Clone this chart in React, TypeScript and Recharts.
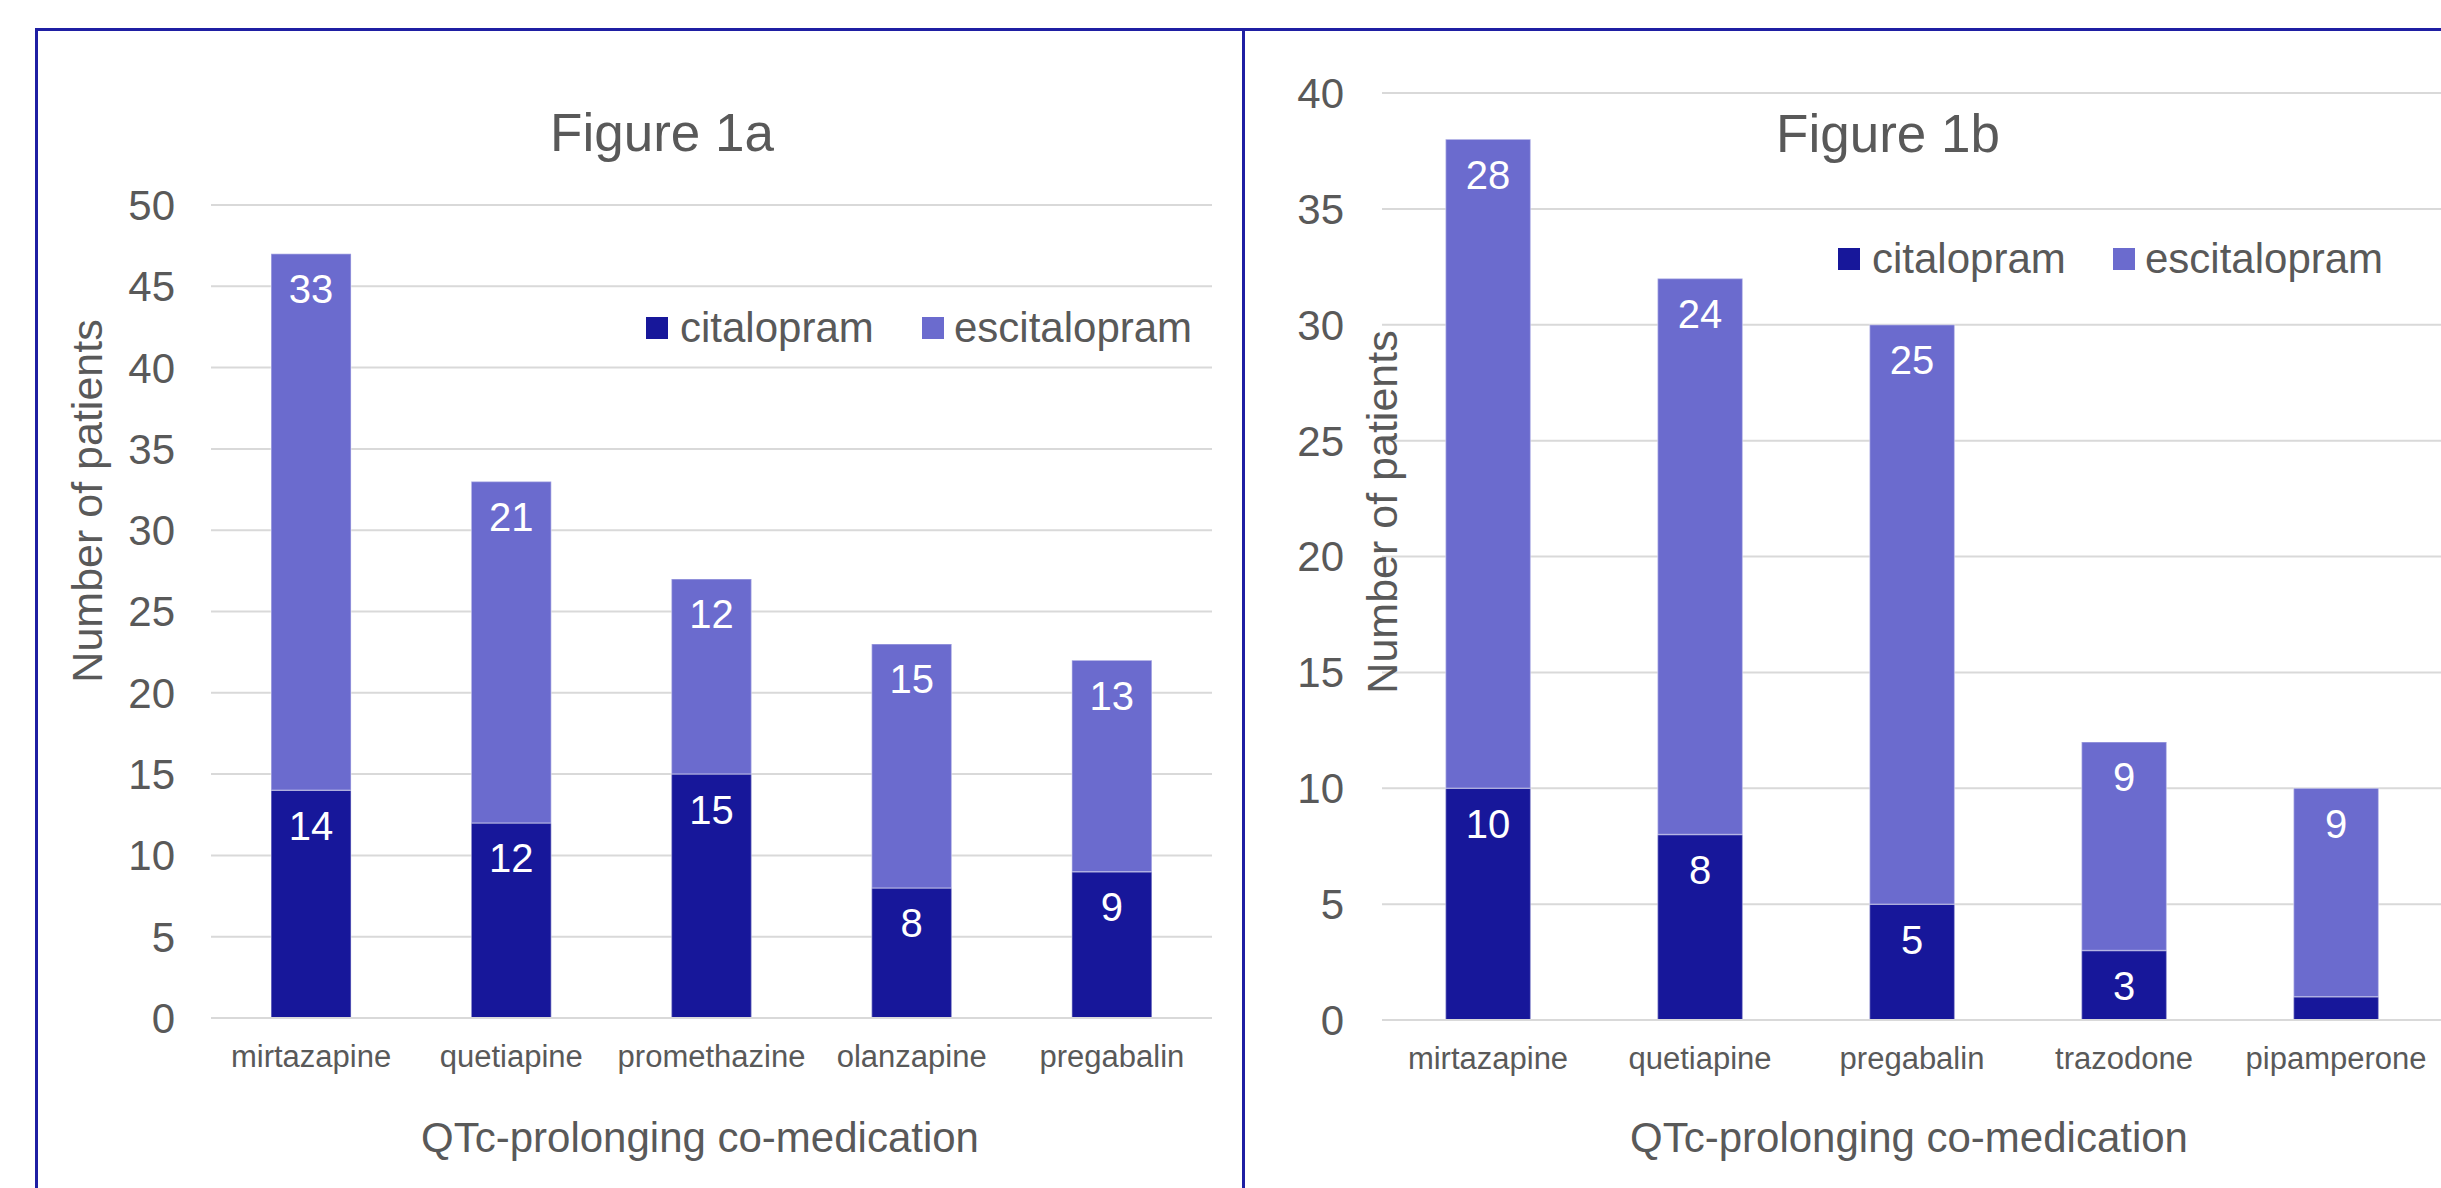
import React from "react";
import { BarChart, Bar, XAxis, YAxis, CartesianGrid, LabelList } from "recharts";

const CITALOPRAM_COLOR = "#17179a";
const ESCITALOPRAM_COLOR = "#6b6bce";
const TEXT_COLOR = "#595959";
const GRID_COLOR = "#d9d9d9";
const BORDER_COLOR = "#1f1fa3";
const FONT = '"Liberation Sans", Arial, sans-serif';

const seriesNames = ["citalopram", "escitalopram"];

// Figure 1a
const medsA = ["mirtazapine", "quetiapine", "promethazine", "olanzapine", "pregabalin"];
const citalopramA = [14, 12, 15, 8, 9];
const escitalopramA = [33, 21, 12, 15, 13];
const ticksA = [0, 5, 10, 15, 20, 25, 30, 35, 40, 45, 50];

// Figure 1b
const medsB = ["mirtazapine", "quetiapine", "pregabalin", "trazodone", "pipamperone"];
const citalopramB = [10, 8, 5, 3, 1];
const escitalopramB = [28, 24, 25, 9, 9];
const ticksB = [0, 5, 10, 15, 20, 25, 30, 35, 40];

const buildRows = (meds: string[], cit: number[], esc: number[]) =>
  meds.map((name, i) => ({ name, citalopram: cit[i], escitalopram: esc[i] }));

const rowsA = buildRows(medsA, citalopramA, escitalopramA);
const rowsB = buildRows(medsB, citalopramB, escitalopramB);

// tiny segments get no label (pipamperone / citalopram)
const labelFormatter = (v: any) => (Number(v) >= 2 ? v : "");

interface PanelProps {
  rows: { name: string; citalopram: number; escitalopram: number }[];
  ticks: number[];
  left: number;
  width: number;
  top: number;
  right: number;
  yAxisWidth: number;
  xAxisHeight: number;
  tickGap: number;
}

const Panel: React.FC<PanelProps> = ({
  rows,
  ticks,
  left,
  width,
  top,
  right,
  yAxisWidth,
  xAxisHeight,
  tickGap,
}) => (
  <div style={{ position: "absolute", left, top: 0 }}>
    <BarChart
      width={width}
      height={1188}
      data={rows}
      margin={{ top, right, bottom: 0, left: 0 }}
      barCategoryGap="30%"
    >
      <CartesianGrid vertical={false} stroke={GRID_COLOR} strokeWidth={2} />
      <XAxis
        dataKey="name"
        height={xAxisHeight}
        axisLine={{ stroke: GRID_COLOR, strokeWidth: 2 }}
        tickLine={false}
        tickSize={0}
        tickMargin={27}
        interval={0}
        tick={{ fill: TEXT_COLOR, fontSize: 31, fontFamily: FONT }}
      />
      <YAxis
        width={yAxisWidth}
        domain={[0, ticks[ticks.length - 1]]}
        ticks={ticks}
        axisLine={false}
        tickLine={false}
        tickSize={0}
        tickMargin={tickGap}
        tick={{ fill: TEXT_COLOR, fontSize: 42, fontFamily: FONT }}
      />
      <Bar
        dataKey="citalopram"
        stackId="a"
        fill={CITALOPRAM_COLOR}
        stroke="#ffffff"
        strokeOpacity={0.35}
        strokeWidth={1.5}
        isAnimationActive={false}
      >
        <LabelList
          dataKey="citalopram"
          position="insideTop"
          offset={21}
          fill="#ffffff"
          fontSize={40}
          fontFamily={FONT}
          formatter={labelFormatter}
        />
      </Bar>
      <Bar
        dataKey="escitalopram"
        stackId="a"
        fill={ESCITALOPRAM_COLOR}
        stroke="#ffffff"
        strokeOpacity={0.35}
        strokeWidth={1.5}
        isAnimationActive={false}
      >
        <LabelList
          dataKey="escitalopram"
          position="insideTop"
          offset={21}
          fill="#ffffff"
          fontSize={40}
          fontFamily={FONT}
          formatter={labelFormatter}
        />
      </Bar>
    </BarChart>
  </div>
);

const LegendRow: React.FC<{ x: number; y: number; gap: number }> = ({ x, y, gap }) => (
  <g>
    <rect x={x} y={y - 25} width={22} height={22} fill={CITALOPRAM_COLOR} />
    <text x={x + 34} y={y} fontSize={42}>
      {seriesNames[0]}
    </text>
    <rect x={x + gap} y={y - 25} width={22} height={22} fill={ESCITALOPRAM_COLOR} />
    <text x={x + gap + 32} y={y} fontSize={42}>
      {seriesNames[1]}
    </text>
  </g>
);

const App: React.FC = () => {
  return (
    <div
      style={{
        position: "absolute",
        left: 0,
        top: 0,
        width: 2441,
        height: 1188,
        overflow: "hidden",
        background: "#ffffff",
        fontFamily: FONT,
      }}
    >
      <Panel
        rows={rowsA}
        ticks={ticksA}
        left={0}
        width={1243}
        top={205}
        right={31}
        yAxisWidth={211}
        xAxisHeight={170}
        tickGap={36}
      />
      <Panel
        rows={rowsB}
        ticks={ticksB}
        left={1243}
        width={1200}
        top={93}
        right={1}
        yAxisWidth={139}
        xAxisHeight={168}
        tickGap={38}
      />

      {/* panel frames */}
      <div
        style={{
          position: "absolute",
          left: 35,
          top: 28,
          width: 1204,
          height: 1200,
          border: `3px solid ${BORDER_COLOR}`,
        }}
      />
      <div
        style={{
          position: "absolute",
          left: 1242,
          top: 28,
          width: 1300,
          height: 1200,
          border: `3px solid ${BORDER_COLOR}`,
        }}
      />

      <svg
        width={2441}
        height={1188}
        style={{ position: "absolute", left: 0, top: 0, pointerEvents: "none" }}
        fill={TEXT_COLOR}
        fontFamily={FONT}
      >
        <text x={662} y={151} fontSize={53} textAnchor="middle">
          Figure 1a
        </text>
        <text x={1888} y={152} fontSize={53} textAnchor="middle">
          Figure 1b
        </text>

        <text x={700} y={1152} fontSize={42} textAnchor="middle">
          QTc-prolonging co-medication
        </text>
        <text x={1909} y={1152} fontSize={42} textAnchor="middle">
          QTc-prolonging co-medication
        </text>

        <text transform="translate(102,501) rotate(-90)" fontSize={43} textAnchor="middle">
          Number of patients
        </text>
        <text transform="translate(1397,512) rotate(-90)" fontSize={43} textAnchor="middle">
          Number of patients
        </text>

        <LegendRow x={646} y={342} gap={276} />
        <LegendRow x={1838} y={273} gap={275} />
      </svg>
    </div>
  );
};

export default App;
